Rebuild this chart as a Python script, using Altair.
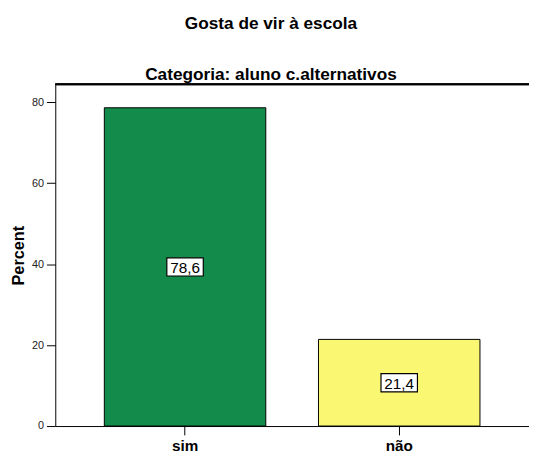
import altair as alt
import pandas as pd

categories = ["sim", "não"]
percents = [78.6, 21.4]
labels = ["78,6", "21,4"]
colors = ["#138B4A", "#FAF873"]

df = pd.DataFrame({"cat": categories, "pct": percents, "lab": labels})
df["mid"] = df["pct"] / 2

W, H = 481, 347
FONT = "Liberation Sans"

x = alt.X("cat:N", sort=categories, title=None,
          scale=alt.Scale(paddingInner=0.246, paddingOuter=0.229),
          axis=alt.Axis(labelAngle=0, labelFont=FONT, labelFontWeight="bold",
                        labelFontSize=15.5, labelColor="#000000", tickSize=9, tickColor="#000000",
                        domainColor="#000000", labelPadding=4))
yscale = alt.Scale(domain=[0, 84.4], nice=False)

bars = alt.Chart(df).mark_bar(stroke="#000000", strokeWidth=1).encode(
    x=x,
    y=alt.Y("pct:Q", scale=yscale, title="Percent",
            axis=alt.Axis(values=[0, 20, 40, 60, 80], grid=False, tickSize=9, tickColor="#000000",
                          domainColor="#000000", labelFont=FONT, labelFontSize=11,
                          labelColor="#222222", labelPadding=3, titleFont=FONT,
                          titleFontSize=16.5, titleFontWeight="bold", titleColor="#000000",
                          titlePadding=5.5)),
    color=alt.Color("cat:N", sort=categories, scale=alt.Scale(domain=categories, range=colors), legend=None),
)

boxes = alt.Chart(df).mark_point(
    shape="M-1,-0.5H1V0.5H-1Z", size=1369, filled=True, fill="#FFFFFF", stroke="#000000",
    strokeWidth=1.2, opacity=1
).encode(x=alt.X("cat:N", sort=categories), y=alt.Y("mid:Q", scale=yscale))

texts = alt.Chart(df).mark_text(font=FONT, fontSize=15.5, color="#000000", baseline="middle", dy=1).encode(
    x=alt.X("cat:N", sort=categories), y=alt.Y("mid:Q", scale=yscale), text="lab:N"
)

topline = alt.Chart(df).mark_rule(color="#000000", strokeWidth=2).encode(
    x=alt.value(0), x2=alt.value(W), y=alt.value(0)
)

chart = alt.layer(bars, boxes, texts, topline).properties(
    width=W, height=H,
    title=alt.TitleParams("Gosta de vir à escola", subtitle="Categoria: aluno c.alternativos",
                          font=FONT, fontSize=17.5, fontWeight="bold", color="#000000",
                          subtitleFont=FONT, subtitleFontSize=17.5, subtitleFontWeight="bold",
                          subtitleColor="#000000", subtitlePadding=34, offset=0, anchor="middle", dx=-21.5),
    autosize=alt.AutoSizeParams(type="none"),
    padding={"left": 48, "top": 74, "right": 0, "bottom": 30},
).configure_view(strokeWidth=0).configure_axis(domainWidth=1, tickWidth=1)

chart.save("out.html", embed_options={"renderer": "svg", "actions": False})
